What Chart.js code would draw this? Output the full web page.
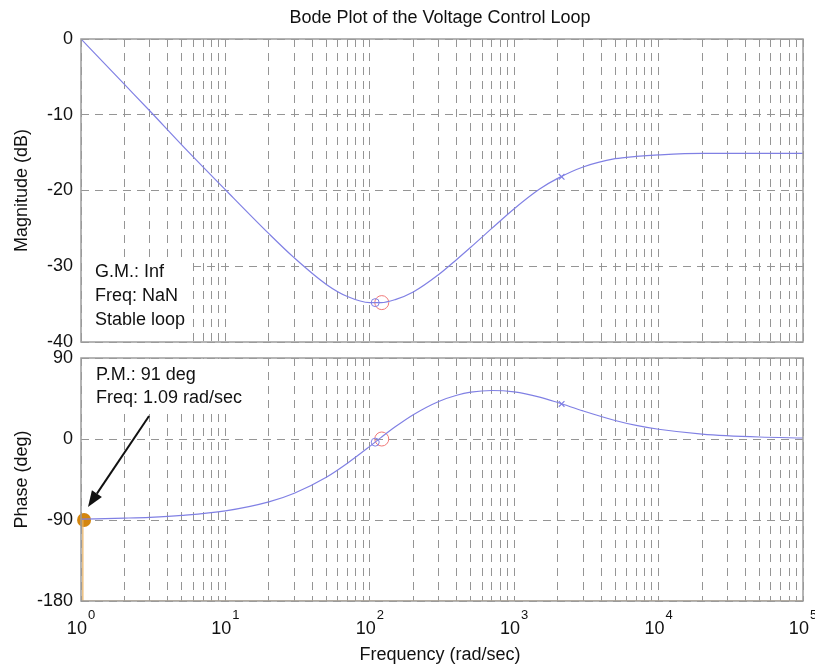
<!DOCTYPE html>
<html><head><meta charset="utf-8">
<script src="https://cdn.jsdelivr.net/npm/chart.js@4.4.0/dist/chart.umd.min.js"></script>
<style>
html,body{margin:0;padding:0;background:#fff;}
#wrap{position:relative;width:815px;height:666px;overflow:hidden;background:#fff;}
canvas{position:absolute;left:0;}
#c1{top:0;}
#c2{top:350px;}
</style></head><body>
<div id="wrap"><canvas id="c1" width="815" height="350"></canvas><canvas id="c2" width="815" height="316"></canvas></div>
<script>
// ---- data ----
const freq        = [1, 2, 3, 5, 10, 20, 30, 50, 70, 100, 120, 150, 200, 300, 400, 500, 700, 1000, 1500, 2000, 3000, 5000, 7000, 10000, 20000, 50000, 100000];
const magnitudeDb = [0, -6.0, -9.5, -14.0, -19.9, -25.7, -28.9, -32.4, -34.0, -34.8, -34.8, -34.4, -33.4, -31.1, -29.1, -27.5, -25.0, -22.4, -19.8, -18.4, -16.9, -15.8, -15.5, -15.3, -15.1, -15.1, -15.1];
const phaseDeg    = [-89.0, -87.9, -87.0, -84.9, -79.9, -69.9, -60.3, -42.5, -26.9, -8.2, 1.8, 13.5, 27.0, 41.7, 48.6, 52.0, 53.9, 52.3, 46.5, 40.5, 31.2, 20.6, 15.1, 10.8, 5.5, 2.2, 1.1];

const magTicks   = [0, -10, -20, -30, -40];
const phaseTicks = [90, 0, -90, -180];
const decadeExponents = [0, 1, 2, 3, 4, 5];

// markers
const zeroMarkFreq = [109];  const zeroMarkMag = [-34.8]; const zeroMarkPhase = [-3.5];
const crossMarkFreq = [121]; const crossMarkMag = [-34.8]; const crossMarkPhase = [0];
const poleMarkFreq = [2130]; const poleMarkMag = [-18.2]; const poleMarkPhase = [39];
const pmMarkFreq = [1.05];   const pmMarkPhase = [-90];
const pmLineFreq  = [1.03, 1.03, 100000];
const pmLinePhase = [-90, -180, -180];
const arrowFreq  = [2.96, 1.118];
const arrowPhase = [25.6, -75.5];

const titleText = 'Bode Plot of the Voltage Control Loop';
const magLabel = 'Magnitude (dB)';
const phaseLabel = 'Phase (deg)';
const xLabel = 'Frequency (rad/sec)';
const gmText = ['G.M.: Inf', 'Freq: NaN', 'Stable loop'];
const pmText = ['P.M.: 91 deg', 'Freq: 1.09 rad/sec'];

// ---- styling ----
const FONT = '"Liberation Sans", Arial, Helvetica, sans-serif';
const curveColor = '#8080e4';
const gridColor = '#959595';
const gridDash = [8, 6];

const pts = (xs, ys) => xs.map((x, i) => ({x: x, y: ys[i]}));
const gridVals = [];
for (let k = 0; k < 5; k++) for (let m = 1; m < 10; m++) gridVals.push(m * Math.pow(10, k));
gridVals.push(100000);

function xScale(showTicksArea) {
  return {
    type: 'logarithmic', min: 1, max: 100000,
    ticks: {display: false},
    grid: {color: gridColor, lineWidth: 1, drawTicks: false},
    border: {display: false, dash: gridDash},
    afterBuildTicks: s => { s.ticks = gridVals.map(v => ({value: v})); },
    afterFit: s => { s.height = showTicksArea; s.paddingLeft = 0; s.paddingRight = 0; }
  };
}
function yScale(min, max, ticksArr) {
  return {
    min: min, max: max,
    ticks: {color: '#111', font: {family: FONT, size: 18}, padding: 8},
    grid: {color: gridColor, lineWidth: 1, drawTicks: false},
    border: {display: false, dash: gridDash},
    afterBuildTicks: s => { s.ticks = ticksArr.map(v => ({value: v})); },
    afterFit: s => { s.width = 81; s.paddingTop = 0; s.paddingBottom = 0; }
  };
}

function drawBox(ctx, a) {
  ctx.save();
  ctx.strokeStyle = '#9c9c9c'; ctx.lineWidth = 1.5; ctx.setLineDash([]);
  ctx.strokeRect(a.left, a.top, a.right - a.left, a.bottom - a.top);
  ctx.restore();
}

const decorTop = {
  id: 'decorTop',
  beforeDatasetsDraw(chart) {
    const {ctx, chartArea: a} = chart;
    ctx.save(); ctx.fillStyle = '#fff';
    ctx.fillRect(a.left + 1, 262, 108, a.bottom - 262 - 1);
    ctx.restore();
  },
  afterDraw(chart) {
    const {ctx, chartArea: a} = chart;
    drawBox(ctx, a);
    ctx.save();
    ctx.fillStyle = '#111';
    ctx.font = '18px ' + FONT;
    ctx.textAlign = 'center'; ctx.textBaseline = 'middle';
    ctx.fillText(titleText, 440, 18);
    ctx.textAlign = 'left';
    gmText.forEach((t, i) => ctx.fillText(t, a.left + 14, 272 + 24 * i));
    ctx.translate(22, (a.top + a.bottom) / 2);
    ctx.rotate(-Math.PI / 2);
    ctx.textAlign = 'center';
    ctx.fillText(magLabel, 0, 0);
    ctx.restore();
  }
};

const decorBottom = {
  id: 'decorBottom',
  beforeDatasetsDraw(chart) {
    const {ctx, chartArea: a} = chart;
    ctx.save(); ctx.fillStyle = '#fff';
    ctx.fillRect(a.left + 1, a.top + 1, 168, 62 - a.top);
    ctx.restore();
  },
  afterDraw(chart) {
    const {ctx, chartArea: a, scales} = chart;
    drawBox(ctx, a);
    const xs = scales.x, ys = scales.y;
    ctx.save();
    ctx.fillStyle = '#111';
    ctx.font = '18px ' + FONT;
    ctx.textBaseline = 'middle'; ctx.textAlign = 'left';
    pmText.forEach((t, i) => ctx.fillText(t, a.left + 15, 25 + 23 * i));
    // arrow
    const x0 = xs.getPixelForValue(arrowFreq[0]), y0 = ys.getPixelForValue(arrowPhase[0]);
    const x1 = xs.getPixelForValue(arrowFreq[1]), y1 = ys.getPixelForValue(arrowPhase[1]);
    const ang = Math.atan2(y1 - y0, x1 - x0);
    const hl = 16, hw = 6;
    const bx = x1 - hl * Math.cos(ang), by = y1 - hl * Math.sin(ang);
    ctx.strokeStyle = '#111'; ctx.lineWidth = 2;
    ctx.beginPath(); ctx.moveTo(x0, y0); ctx.lineTo(bx, by); ctx.stroke();
    ctx.beginPath();
    ctx.moveTo(x1, y1);
    ctx.lineTo(bx + hw * Math.sin(ang), by - hw * Math.cos(ang));
    ctx.lineTo(bx - hw * Math.sin(ang), by + hw * Math.cos(ang));
    ctx.closePath(); ctx.fill();
    // x tick labels 10^n
    decadeExponents.forEach(p => {
      const px = xs.getPixelForValue(Math.pow(10, p));
      ctx.font = '18px ' + FONT;
      const w1 = ctx.measureText('10').width;
      ctx.font = '13px ' + FONT;
      const w2 = ctx.measureText(String(p)).width;
      const start = px - (w1 + 1 + w2) / 2;
      ctx.font = '18px ' + FONT;
      ctx.textAlign = 'left';
      ctx.fillText('10', start, 279);
      ctx.font = '13px ' + FONT;
      ctx.fillText(String(p), start + w1 + 1, 265);
    });
    ctx.font = '18px ' + FONT;
    ctx.textAlign = 'center';
    ctx.fillText(xLabel, 440, 305);
    ctx.translate(22, (a.top + a.bottom) / 2);
    ctx.rotate(-Math.PI / 2);
    ctx.fillText(phaseLabel, 0, 0);
    ctx.restore();
  }
};

const common = {
  responsive: false, animation: false, devicePixelRatio: 1,
  plugins: {legend: {display: false}, tooltip: {enabled: false}, title: {display: false}},
  elements: {line: {cubicInterpolationMode: 'monotone'}}
};

new Chart(document.getElementById('c1'), {
  type: 'scatter',
  data: {datasets: [
    {data: pts(freq, magnitudeDb), showLine: true, borderColor: curveColor, borderWidth: 1.2, pointRadius: 0, cubicInterpolationMode: 'monotone'},
    {data: pts(zeroMarkFreq, zeroMarkMag), pointStyle: 'circle', pointRadius: 4, borderColor: curveColor, backgroundColor: 'rgba(0,0,0,0)', borderWidth: 1},
    {data: pts(crossMarkFreq, crossMarkMag), pointStyle: 'circle', pointRadius: 7, borderColor: '#f07878', backgroundColor: 'rgba(0,0,0,0)', borderWidth: 1},
    {data: pts(poleMarkFreq, poleMarkMag), pointStyle: 'crossRot', pointRadius: 4, borderColor: curveColor, borderWidth: 1.2}
  ]},
  options: Object.assign({}, common, {
    layout: {padding: {top: 39, bottom: 7, left: 0, right: 12}},
    scales: {x: xScale(0), y: yScale(-40, 0, magTicks)}
  }),
  plugins: [decorTop]
});

new Chart(document.getElementById('c2'), {
  type: 'scatter',
  data: {datasets: [
    {data: pts(pmLineFreq, pmLinePhase), showLine: true, borderColor: '#e8b060', borderWidth: 1.2, pointRadius: 0, cubicInterpolationMode: 'default', tension: 0},
    {data: pts(freq, phaseDeg), showLine: true, borderColor: curveColor, borderWidth: 1.2, pointRadius: 0, cubicInterpolationMode: 'monotone'},
    {data: pts(zeroMarkFreq, zeroMarkPhase), pointStyle: 'circle', pointRadius: 4, borderColor: curveColor, backgroundColor: 'rgba(0,0,0,0)', borderWidth: 1},
    {data: pts(crossMarkFreq, crossMarkPhase), pointStyle: 'circle', pointRadius: 7, borderColor: '#f07878', backgroundColor: 'rgba(0,0,0,0)', borderWidth: 1},
    {data: pts(poleMarkFreq, poleMarkPhase), pointStyle: 'crossRot', pointRadius: 4, borderColor: curveColor, borderWidth: 1.2},
    {data: pts(pmMarkFreq, pmMarkPhase), pointStyle: 'circle', pointRadius: 7, borderColor: '#d4860e', backgroundColor: '#d4860e', borderWidth: 0, clip: false}
  ]},
  options: Object.assign({}, common, {
    layout: {padding: {top: 8, bottom: 0, left: 0, right: 12}},
    scales: {x: xScale(65), y: yScale(-180, 90, phaseTicks)}
  }),
  plugins: [decorBottom]
});
</script>
</body></html>
